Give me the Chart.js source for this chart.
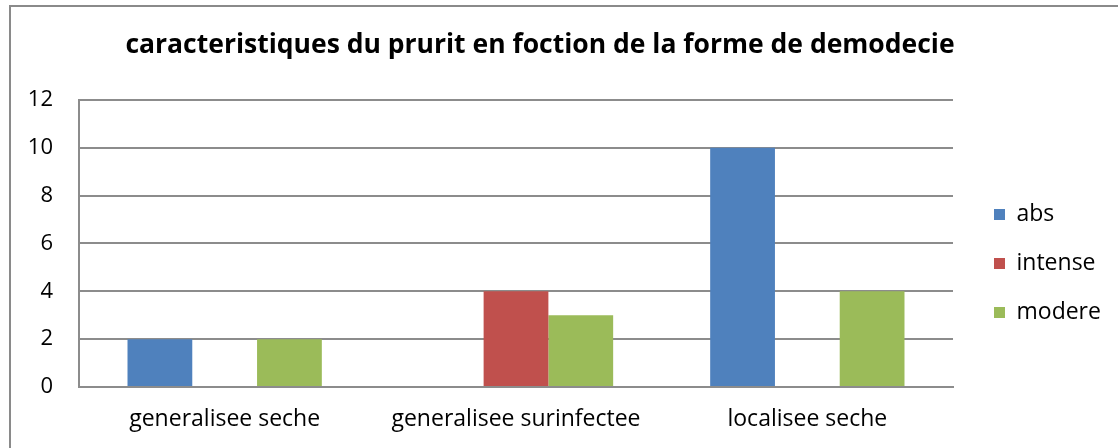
<!DOCTYPE html>
<html>
<head>
<meta charset="utf-8">
<script src="https://cdn.jsdelivr.net/npm/chart.js@4"></script>
<style>
  body { margin: 0; background: #fff; }
  #wrap { position: relative; width: 1118px; height: 448px; overflow: hidden; }
  #frame { position: absolute; left: 9px; top: 5px; width: 1120px; height: 460px; border: 2px solid #8a8a8a; box-sizing: border-box; }
  canvas { position: absolute; left: 0; top: 0; }
</style>
</head>
<body>
<div id="wrap">
  <div id="frame"></div>
  <canvas id="chart" width="1118" height="448"></canvas>
</div>
<script>
const categories = ['generalisee seche', 'generalisee surinfectee', 'localisee seche'];
const absValues = [2, 0, 10];
const intenseValues = [0, 4, 0];
const modereValues = [2, 3, 4];
const yTicks = [0, 2, 4, 6, 8, 10, 12];

const FONT = '"Open Sans", sans-serif';
const GRID = '#8c8c8c';

// fixed legend width, then small nudges after layout (title centre, legend offset)
const nudge = {
  id: 'nudge',
  afterInit(chart) {
    const legend = chart.legend;
    const fit = legend.fit;
    legend.fit = function() {
      fit.call(this);
      this.width = 165;
    };
  },
  afterLayout(chart) {
    const t = chart.titleBlock;
    t.left = 125 - 300;
    t.right = 955 + 300;
    chart.legend.left += 15;
    chart.legend.right += 15;
    chart.legend.top += 38;
    chart.legend.bottom += 38;
  }
};

new Chart('chart', {
  type: 'bar',
  data: {
    labels: categories,
    datasets: [
      { label: 'abs', data: absValues, backgroundColor: '#4f81bd' },
      { label: 'intense', data: intenseValues, backgroundColor: '#c0504d' },
      { label: 'modere', data: modereValues, backgroundColor: '#9bbb59' }
    ]
  },
  options: {
    responsive: false,
    animation: false,
    layout: { padding: { left: 0, top: 3, right: 0, bottom: 0 } },
    datasets: { bar: { categoryPercentage: 0.667, barPercentage: 1.0, borderWidth: 0 } },
    plugins: {
      title: {
        display: true,
        text: 'caracteristiques du prurit en foction de la forme de demodecie',
        color: '#000',
        font: { family: FONT, size: 26.5, weight: 'bold', lineHeight: 1.2 },
        padding: { top: 27, bottom: 38 }
      },
      legend: {
        position: 'right',
        labels: {
          color: '#000',
          font: { family: FONT, size: 23 },
          boxWidth: 11,
          boxHeight: 11,
          padding: 26
        }
      },
      tooltip: { enabled: false }
    },
    scales: {
      x: {
        grid: { display: false, drawTicks: false },
        border: { display: true, color: GRID, width: 2 },
        ticks: { color: '#000', font: { family: FONT, size: 23 }, padding: 19 },
        afterFit(scale) { scale.height = 61; }
      },
      y: {
        min: 0,
        max: 12,
        afterBuildTicks(scale) { scale.ticks = yTicks.map(v => ({ value: v })); },
        grid: { color: GRID, lineWidth: 2, drawTicks: false },
        border: { display: true, color: GRID, width: 2 },
        ticks: { color: '#000', font: { family: FONT, size: 22 }, padding: 26 },
        afterFit(scale) { scale.width = 79; }
      }
    }
  },
  plugins: [nudge]
});
</script>
</body>
</html>
